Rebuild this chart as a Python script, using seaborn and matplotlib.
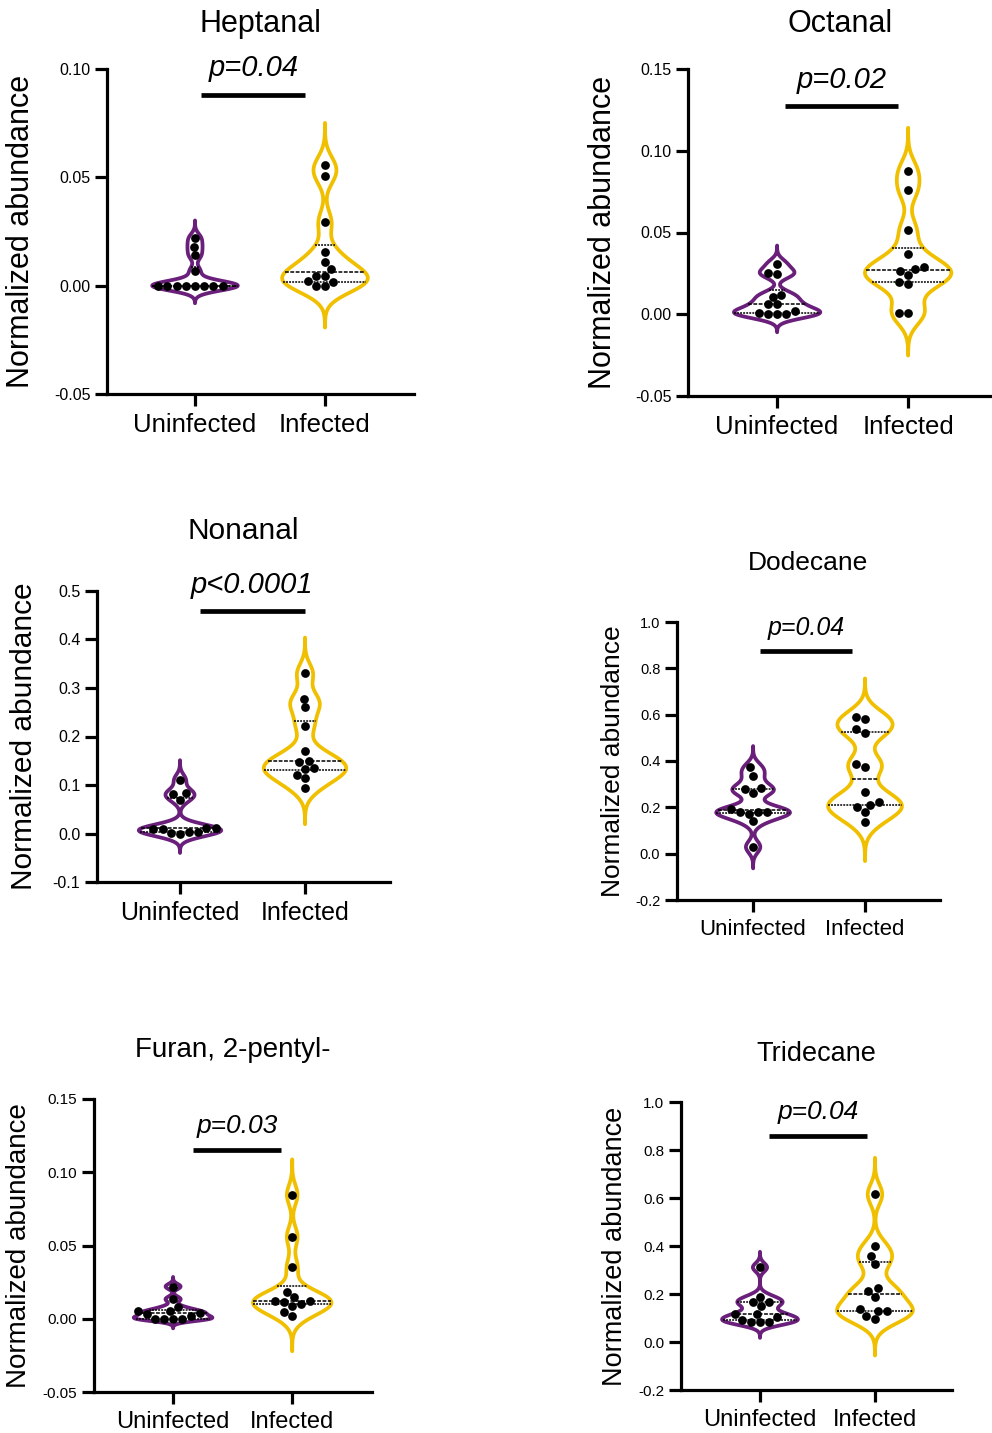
import matplotlib
matplotlib.use('Agg')
import matplotlib.pyplot as plt
import seaborn as sns
import pandas as pd
import numpy as np


groups = ['Uninfected', 'Infected']
compounds = ['Heptanal', 'Octanal', 'Nonanal', 'Dodecane', 'Furan, 2-pentyl-', 'Tridecane']
p_labels = ['p=0.04', 'p=0.02', 'p<0.0001', 'p=0.04', 'p=0.03', 'p=0.04']

heptanal_uninf = [0, 0, 0, 0, 0, 0, 0, 0, 0.0066, 0.014, 0.018, 0.022]
heptanal_inf = [0.0558, 0.0507, 0.0292, 0.0154, 0.0109, 0.0077, 0.0046, 0.0046, 0.002, 0.0, 0.0, 0.0015]

octanal_uninf = [0.031, 0.0245, 0.0255, 0.012, 0.0106, 0.006, 0.006, 0.0, 0.002, 0.0, 0.001, 0.0]
octanal_inf = [0.0878, 0.076, 0.0514, 0.0367, 0.0276, 0.029, 0.0265, 0.0239, 0.0184, 0.0198, 0.001, 0.001]

nonanal_uninf = [0.111, 0.084, 0.082, 0.070, 0.004, 0.0096, 0.0117, 0.0117, 0.0014, 0.0096, 0.0, 0.004]
nonanal_inf = [0.33, 0.278, 0.26, 0.222, 0.171, 0.148, 0.150, 0.134, 0.135, 0.121, 0.114, 0.093]

dodecane_uninf = [0.372, 0.336, 0.283, 0.279, 0.262, 0.193, 0.178, 0.172, 0.178, 0.182, 0.139, 0.029]
dodecane_inf = [0.58, 0.589, 0.537, 0.523, 0.376, 0.388, 0.268, 0.225, 0.211, 0.2, 0.18, 0.135]

furan_uninf = [0.022, 0.0134, 0.008, 0.0055, 0.0039, 0.0034, 0.005, 0.0016, 0.0, 0.0, 0.0, 0.0]
furan_inf = [0.0846, 0.056, 0.035, 0.018, 0.0148, 0.0123, 0.0102, 0.0114, 0.0123, 0.009, 0.0046, 0.002]

tridecane_uninf = [0.311, 0.189, 0.168, 0.168, 0.151, 0.117, 0.117, 0.103, 0.092, 0.085, 0.085, 0.082]
tridecane_inf = [0.615, 0.40, 0.358, 0.325, 0.224, 0.214, 0.189, 0.131, 0.131, 0.1375, 0.096, 0.11]

values = [
    (heptanal_uninf, heptanal_inf),
    (octanal_uninf, octanal_inf),
    (nonanal_uninf, nonanal_inf),
    (dodecane_uninf, dodecane_inf),
    (furan_uninf, furan_inf),
    (tridecane_uninf, tridecane_inf),
]

colors = {'Uninfected': '#6a1f7b', 'Infected': '#f0c000'}

W, H = 992, 1433

# layout in pixels: left, right, top, bottom, ylabel right edge, title centre
layout = [
    dict(box=(107, 414, 69, 394), ylab=36, title=24, ylim=(-0.05, 0.10), step=0.05, fmt='%.2f',
         xlim=(-0.677, 1.685), bar=(0.05, 0.85, 0.088), ptxt=0.1005, fs=22, tfs=11.5, xfs=18.5, pfs=21),
    dict(box=(688, 992, 69, 396), ylab=618, title=24, ylim=(-0.05, 0.15), step=0.05, fmt='%.2f',
         xlim=(-0.68, 1.64), bar=(0.06, 0.92, 0.1274), ptxt=0.143, fs=22, tfs=11.5, xfs=18.5, pfs=21),
    dict(box=(97, 390, 591, 882), ylab=38, title=531, ylim=(-0.1, 0.5), step=0.1, fmt='%.1f',
         xlim=(-0.664, 1.68), bar=(0.16, 1.0, 0.459), ptxt=0.512, fs=21.5, tfs=11.5, xfs=18, pfs=21),
    dict(box=(677, 940, 622, 900), ylab=625, title=563, ylim=(-0.2, 1.0), step=0.2, fmt='%.1f',
         xlim=(-0.68, 1.67), bar=(0.06, 0.88, 0.875), ptxt=0.974, fs=19, tfs=10.5, xfs=16, pfs=18),
    dict(box=(94, 372, 1099, 1392), ylab=32, title=1050, ylim=(-0.05, 0.15), step=0.05, fmt='%.2f',
         xlim=(-0.664, 1.67), bar=(0.17, 0.91, 0.1153), ptxt=0.1317, fs=20, tfs=11, xfs=17, pfs=19),
    dict(box=(681, 952, 1102, 1390), ylab=628, title=1054, ylim=(-0.2, 1.0), step=0.2, fmt='%.1f',
         xlim=(-0.687, 1.67), bar=(0.08, 0.93, 0.858), ptxt=0.958, fs=19.5, tfs=11, xfs=17, pfs=19),
]


def draw_panel(fig, name, uninf, inf, ptext, cfg):
    left, right, top, bottom = cfg['box']
    ax = fig.add_axes([left / W, 1 - bottom / H, (right - left) / W, (bottom - top) / H])
    df = pd.DataFrame({
        'group': ['Uninfected'] * len(uninf) + ['Infected'] * len(inf),
        'value': list(uninf) + list(inf),
    })
    sns.violinplot(data=df, x='group', y='value', hue='group', order=groups, hue_order=groups,
                   palette=colors, fill=False, inner='quart', linewidth=2.7, width=0.66,
                   density_norm='width', bw_adjust=0.45, cut=3.6, legend=False,
                   inner_kws=dict(color='black', linewidth=1.1), ax=ax)
    sns.swarmplot(data=df, x='group', y='value', order=groups, color='black', size=6.3,
                  zorder=4, ax=ax)

    lo, hi = cfg['ylim']
    ax.set_ylim(lo, hi)
    ax.set_xlim(*cfg['xlim'])
    ax.set_yticks(np.arange(lo, hi + cfg['step'] / 2, cfg['step']))
    ax.yaxis.set_major_formatter(matplotlib.ticker.FormatStrFormatter(cfg['fmt']))
    ax.set_xlabel('')
    ax.set_ylabel('Normalized abundance', fontsize=cfg['fs'])
    ax.yaxis.set_label_coords((cfg['ylab'] - left) / (right - left), 0.5)
    sns.despine(ax=ax)
    for side in ['left', 'bottom']:
        ax.spines[side].set_linewidth(2.3)
    ax.tick_params(axis='y', width=2.3, length=9, pad=3, labelsize=cfg['tfs'])
    ax.tick_params(axis='x', width=2.3, length=8.5, pad=5, labelsize=cfg['xfs'])

    ax.text(0.5, (bottom - cfg['title']) / (bottom - top), name, transform=ax.transAxes,
            ha='center', va='center', fontsize=cfg['fs'])

    x0, x1, yb = cfg['bar']
    ax.plot([x0, x1], [yb, yb], color='black', linewidth=3.4, solid_capstyle='butt', clip_on=False)
    ax.text((x0 + x1) / 2, cfg['ptxt'], ptext, ha='center', va='center', fontsize=cfg['pfs'],
            style='italic', clip_on=False)


def main():
    sns.set_style('ticks')
    plt.rcParams['font.family'] = ['Liberation Sans', 'DejaVu Sans']
    plt.rcParams['axes.unicode_minus'] = False
    for key in ['text.color', 'axes.labelcolor', 'axes.edgecolor', 'xtick.color', 'ytick.color']:
        plt.rcParams[key] = 'black'
    fig = plt.figure(figsize=(W / 100, H / 100), dpi=100)
    for name, (uninf, inf), ptext, cfg in zip(compounds, values, p_labels, layout):
        draw_panel(fig, name, uninf, inf, ptext, cfg)
    fig.savefig('out.png', dpi=100)
    plt.close()


if __name__ == '__main__':
    main()
